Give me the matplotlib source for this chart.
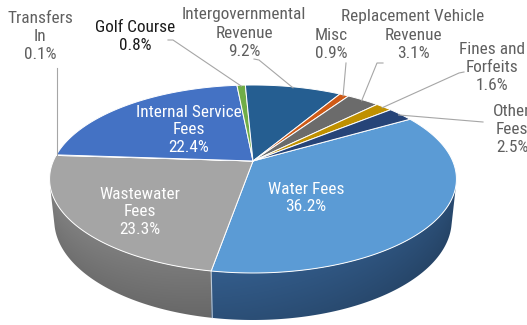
import os
import numpy as np
import matplotlib
matplotlib.use("Agg")
import matplotlib.pyplot as plt
from matplotlib.patches import Polygon
from matplotlib.colors import to_rgb
from matplotlib import font_manager as fm
from matplotlib.textpath import TextPath

# ---- data (clockwise from the first slice) ----
categories = ["Water Fees", "Wastewater Fees", "Transfers In", "Internal Service Fees",
              "Golf Course", "Intergovernmental Revenue", "Misc",
              "Replacement Vehicle Revenue", "Fines and Forfeits", "Other Fees"]
shares = [36.2, 23.3, 0.1, 22.4, 0.8, 9.2, 0.9, 3.1, 1.6, 2.5]
label_names = ["Water Fees", "Wastewater\nFees", "Transfers\nIn", "Internal Service\nFees",
               "Golf Course", "Intergovernmental\nRevenue", "Misc",
               "Replacement Vehicle\nRevenue", "Fines and\nForfeits", "Other\nFees"]

# ---- style ----
top_colors = ["#5B9BD5", "#A5A5A5", "#FFC000", "#4472C4", "#70AD47",
              "#255E91", "#CF5A17", "#6B6B6B", "#BF9000", "#264478"]
side_colors = ["#2F5580", "#6E6E6E", "#A07800", "#2B4A82", "#4A7530",
               "#173D60", "#85390C", "#464646", "#7A5C00", "#18294A"]
first_angle = 30.4          # degrees, counter-clockwise from east
W, H = 527, 325

# perspective camera for the tilted disc
sin_e, cos_e = 0.4535, 0.891
dist, focal, thick = 4.653, 929.0, 0.234
cx, cy = 253.0, 161.0


def project(theta, r=1.0, z=0.0):
    t = np.radians(theta)
    u, v = r * np.cos(t), r * np.sin(t)
    d = dist + v * cos_e - z * sin_e
    X = focal * u / d
    Y = focal * (v * sin_e + z * cos_e) / d
    return cx + X, cy - Y


def pick_font():
    files = [f.fname for f in fm.fontManager.ttflist]
    prefs = ["liberationsansnarrow-regular", "arialn.", "notosans-condensed.",
             "robotocondensed-regular", "opensans-condensed", "dejavusanscondensed."]
    for p in prefs:
        for fn in files:
            if os.path.basename(fn).lower().startswith(p):
                return fm.FontProperties(fname=fn)
    return fm.FontProperties(family="DejaVu Sans", stretch="condensed")


base_font = pick_font()
probe = base_font.copy()
probe.set_size(12)
probe_w = TextPath((0, 0), "Internal Service", prop=probe).get_extents().width * 100 / 72
font_size = 12 * 103.0 / probe_w
label_font = base_font.copy()
label_font.set_size(font_size)

fig = plt.figure(figsize=(W / 100, H / 100), dpi=100)
ax = fig.add_axes([0, 0, 1, 1])

total = sum(shares)
bounds = [first_angle]
for s in shares:
    bounds.append(bounds[-1] - 360.0 * s / total)
mids = [(a + b) / 2 for a, b in zip(bounds[:-1], bounds[1:])]
cum = np.cumsum(np.array(shares) * 360.0 / total)

# ---- outer wall: visible arc between the two silhouette angles ----
lim = np.degrees(np.arcsin(-1.0 / (dist * cos_e)))      # facing limit
th_vis = np.linspace(180 - lim, 360 + lim, 400)
top_rim = np.array([project(t, 1, 0) for t in th_vis])
bot_rim = np.array([project(t, 1, -thick) for t in th_vis])
wall = np.vstack([top_rim, bot_rim[::-1]])

xs = np.arange(40, 470, 0.5)
ys = np.arange(140, 325, 0.5)
gx, gy = np.meshgrid(xs, ys)
th_col = np.interp(gx, top_rim[:, 0], th_vis)
yt = np.interp(th_col, th_vis, top_rim[:, 1])
yb = np.interp(th_col, th_vis, bot_rim[:, 1])
frac = np.clip((gy - yt) / (yb - yt), 0, 1)
off = np.mod(first_angle - th_col, 360)
idx = np.clip(np.searchsorted(cum, off), 0, len(shares) - 1)
side_rgb = np.array([to_rgb(c) for c in side_colors])
k = (1 + 0.16 * np.cos(np.radians(th_col - 205))) * (1 - 0.14 * frac)
img = np.clip(side_rgb[idx] * k[..., None], 0, 1)
wall_patch = Polygon(wall, closed=True, facecolor="none", edgecolor="none")
ax.add_patch(wall_patch)
im = ax.imshow(img, extent=(xs[0], xs[-1], ys[-1], ys[0]), origin="upper",
               interpolation="bilinear", zorder=1)
im.set_clip_path(wall_patch)
ax.set_xlim(0, W)
ax.set_ylim(H, 0)
ax.set_aspect("auto")
ax.axis("off")

# slice boundary lines on the visible wall
for b in bounds[:-1]:
    if 1 + dist * cos_e * np.sin(np.radians(b)) < 0:
        p0, p1 = project(b, 1, 0), project(b, 1, -thick)
        ax.plot([p0[0], p1[0]], [p0[1], p1[1]], color="#D8E4F0", lw=0.8,
                alpha=0.8, zorder=2)

# ---- top face ----
for i, (a0, a1) in enumerate(zip(bounds[:-1], bounds[1:])):
    th = np.linspace(a0, a1, max(3, int(abs(a0 - a1) * 2)))
    pts = [project(0, 0)] + [project(t) for t in th]
    ax.add_patch(Polygon(pts, closed=True, facecolor=top_colors[i], zorder=3,
                         edgecolor="white", lw=0.7, joinstyle="round"))

# ---- labels ----
inside = {0: (306, 198), 1: (140, 212), 3: (189, 130)}
outside = {
    2: ((40, 36.5), [(56.5, 68)]),
    4: ((135, 36.5), [(168, 40), (173, 40)]),
    5: ((244, 33), [(254, 59), (259, 60)]),
    6: ((331, 45), [(346, 63)]),
    7: ((413, 35), [(383, 63), (377, 63)]),
    8: ((492, 67), [(464, 72), (459, 73)]),
    9: ((512, 130), [(483, 122)]),
}
for i, v in enumerate(shares):
    txt = f"{label_names[i]}\n{v:.1f}%"
    if i in inside:
        x, y = inside[i]
        ax.text(x, y, txt, ha="center", va="center", multialignment="center",
                color="white", linespacing=1.2, fontproperties=label_font, zorder=5)
    else:
        (x, y), path = outside[i]
        col = "#1A1A1A" if i == 4 else "#5F5F5F"
        ax.text(x, y, txt, ha="center", va="center", multialignment="center",
                color=col, linespacing=1.25, fontproperties=label_font, zorder=5)
        end = project(mids[i], 0.985)
        if i == 2:
            end = (path[0][0], end[1])
        lx = [p[0] for p in path] + [end[0]]
        ly = [p[1] for p in path] + [end[1]]
        ax.plot(lx, ly, color="#A6A6A6", lw=0.8, zorder=4)

fig.savefig("out.png", dpi=100)
